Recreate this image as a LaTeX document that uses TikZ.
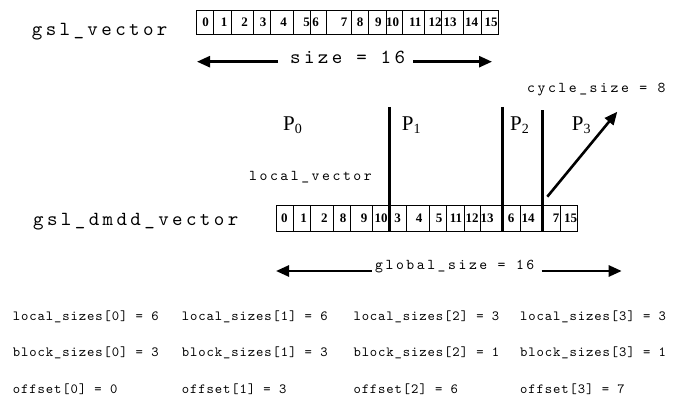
\documentclass[tikz,border=0pt]{standalone}
\usepackage{fontspec}
\usetikzlibrary{arrows.meta}
\newfontfamily\ttbig[LetterSpace=17]{lmmono10-regular.otf}
\newfontfamily\ttmid[LetterSpace=17]{lmmono10-regular.otf}
\newfontfamily\ttsmall[LetterSpace=6.4]{lmmono10-regular.otf}
\newfontfamily\serifface{Liberation Serif}
\begin{document}
\begin{tikzpicture}[x=1pt,y=-1pt,
  bigtxt/.style={font=\ttbig\fontsize{20}{20}\selectfont, inner sep=0, anchor=base west},
  midtxt/.style={font=\ttmid\fontsize{15}{15}\selectfont, inner sep=0, anchor=base west},
  smalltxt/.style={font=\ttsmall\fontsize{14}{14}\selectfont, inner sep=0, anchor=base west},
  cell/.style={draw, line width=0.8pt, inner sep=0, outer sep=0},
  digit/.style={font=\serifface\bfseries\fontsize{13}{13}\selectfont, inner sep=0},
  plabel/.style={font=\serifface\fontsize{21}{21}\selectfont, inner sep=0, anchor=base west},
  bigarrow/.style={line width=2.6pt, -{Triangle[length=13pt,width=11pt]}},
  divider/.style={line width=2.8pt},
  cyclearrow/.style={line width=2.6pt, -{Triangle[length=13pt,width=11pt]}}]
\useasboundingbox (0,0) rectangle (688,403);
\fill[white] (0,0) rectangle (688,403);

% gsl_vector
\node[bigtxt] (gv) at (31.7,36) {gsl\_vector};
\foreach \a/\b/\d/\c [count=\i from 0] in {196.7/213.3/0/205.5, 213.3/231/1/224, 231/253.3/2/244.5, 253.3/270.7/3/263, 270.7/293.3/4/283.7, 293.3/310/5/306.5, 310/326.7/6/315.5, 326.7/351/7/344, 351/368.3/8/360, 368.3/386.7/9/378.3, 386.7/402.3/10/392.5, 402.3/424.3/11/415.3, 424.3/441.7/12/435, 441.7/463.3/13/450, 463.3/481.7/14/471.7, 481.7/498.3/15/491}
{
  \node[cell, minimum width={(\b-\a)*1pt}, minimum height=24pt] (t\i) at ({(\a+\b)/2},22) {};
  \node[digit] (td\i) at (\c,22) {\d};
}

% size arrow
\node[bigtxt] (size) at (290,64) {size = 16};
\coordinate (sLa) at (278,61.7);
\coordinate (sLb) at (197,61.7);
\coordinate (sRa) at (413,61.7);
\coordinate (sRb) at (492,61.7);
\draw[bigarrow] (sLa) -- (sLb);
\draw[bigarrow] (sRa) -- (sRb);

% cycle size
\node[midtxt] (cyc) at (527,92.7) {cycle\_size = 8};

% processor labels
\node[plabel] (p0) at (283,131) {P\raisebox{-3pt}{\fontsize{14}{14}\selectfont 0}};
\node[plabel] (p1) at (401.7,131) {P\raisebox{-3pt}{\fontsize{14}{14}\selectfont 1}};
\node[plabel] (p2) at (510,131) {P\raisebox{-3pt}{\fontsize{14}{14}\selectfont 2}};
\node[plabel] (p3) at (571.7,131) {P\raisebox{-3pt}{\fontsize{14}{14}\selectfont 3}};

% local_vector
\node[midtxt] (lv) at (249,181) {local\_vector};

% gsl_dmdd_vector
\node[bigtxt] (dv) at (33,226) {gsl\_dmdd\_vector};
\foreach \a/\b/\d/\c [count=\i from 0] in {276/293.3/0/284.3, 293.3/310.7/1/303.5, 310.7/333.3/2/324.3, 333.3/350/8/343, 350/372.7/9/364, 372.7/389.3/10/381, 389.3/406.7/3/397.5, 406.7/429.3/4/419, 429.3/446.7/5/439, 446.7/464/11/456, 464/480.7/12/472, 480.7/502.7/13/487, 502.7/520.7/6/511, 520.7/542.7/14/528, 542.7/560/7/556, 560/577.3/15/570.5}
{
  \node[cell, minimum width={(\b-\a)*1pt}, minimum height=26pt] (b\i) at ({(\a+\b)/2},218) {};
  \node[digit] (bd\i) at (\c,218) {\d};
}

% dividers
\coordinate (d1t) at (389.3,107);
\coordinate (d1b) at (389.3,231);
\coordinate (d2t) at (502.7,107);
\coordinate (d2b) at (502.7,231);
\coordinate (d3t) at (542.5,110.5);
\coordinate (d3b) at (542.5,231);
\draw[divider] (d1t) -- (d1b);
\draw[divider] (d2t) -- (d2b);
\draw[divider] (d3t) -- (d3b);

% cycle arrow
\coordinate (ca) at (547.3,196.7);
\coordinate (cb) at (617.3,111.7);
\draw[cyclearrow] (ca) -- (cb);

% global size
\node[midtxt] (gs) at (375,270) {global\_size = 16};
\coordinate (gLa) at (371.7,271);
\coordinate (gLb) at (276,271);
\coordinate (gRa) at (541.7,271);
\coordinate (gRb) at (621.7,271);
\draw[bigarrow] (gLa) -- (gLb);
\draw[bigarrow] (gRa) -- (gRb);

% bottom table
\node[smalltxt] (ls0) at (12.7,320) {local\_sizes[0] = 6};
\node[smalltxt] (ls1) at (181.7,320) {local\_sizes[1] = 6};
\node[smalltxt] (ls2) at (353.3,320) {local\_sizes[2] = 3};
\node[smalltxt] (ls3) at (520,320) {local\_sizes[3] = 3};
\node[smalltxt] (bs0) at (12.7,356) {block\_sizes[0] = 3};
\node[smalltxt] (bs1) at (181.7,356) {block\_sizes[1] = 3};
\node[smalltxt] (bs2) at (353.3,356) {block\_sizes[2] = 1};
\node[smalltxt] (bs3) at (520,356) {block\_sizes[3] = 1};
\node[smalltxt] (of0) at (12.7,393) {offset[0] = 0};
\node[smalltxt] (of1) at (181.7,393) {offset[1] = 3};
\node[smalltxt] (of2) at (353.3,393) {offset[2] = 6};
\node[smalltxt] (of3) at (520,393) {offset[3] = 7};
\end{tikzpicture}
\end{document}
